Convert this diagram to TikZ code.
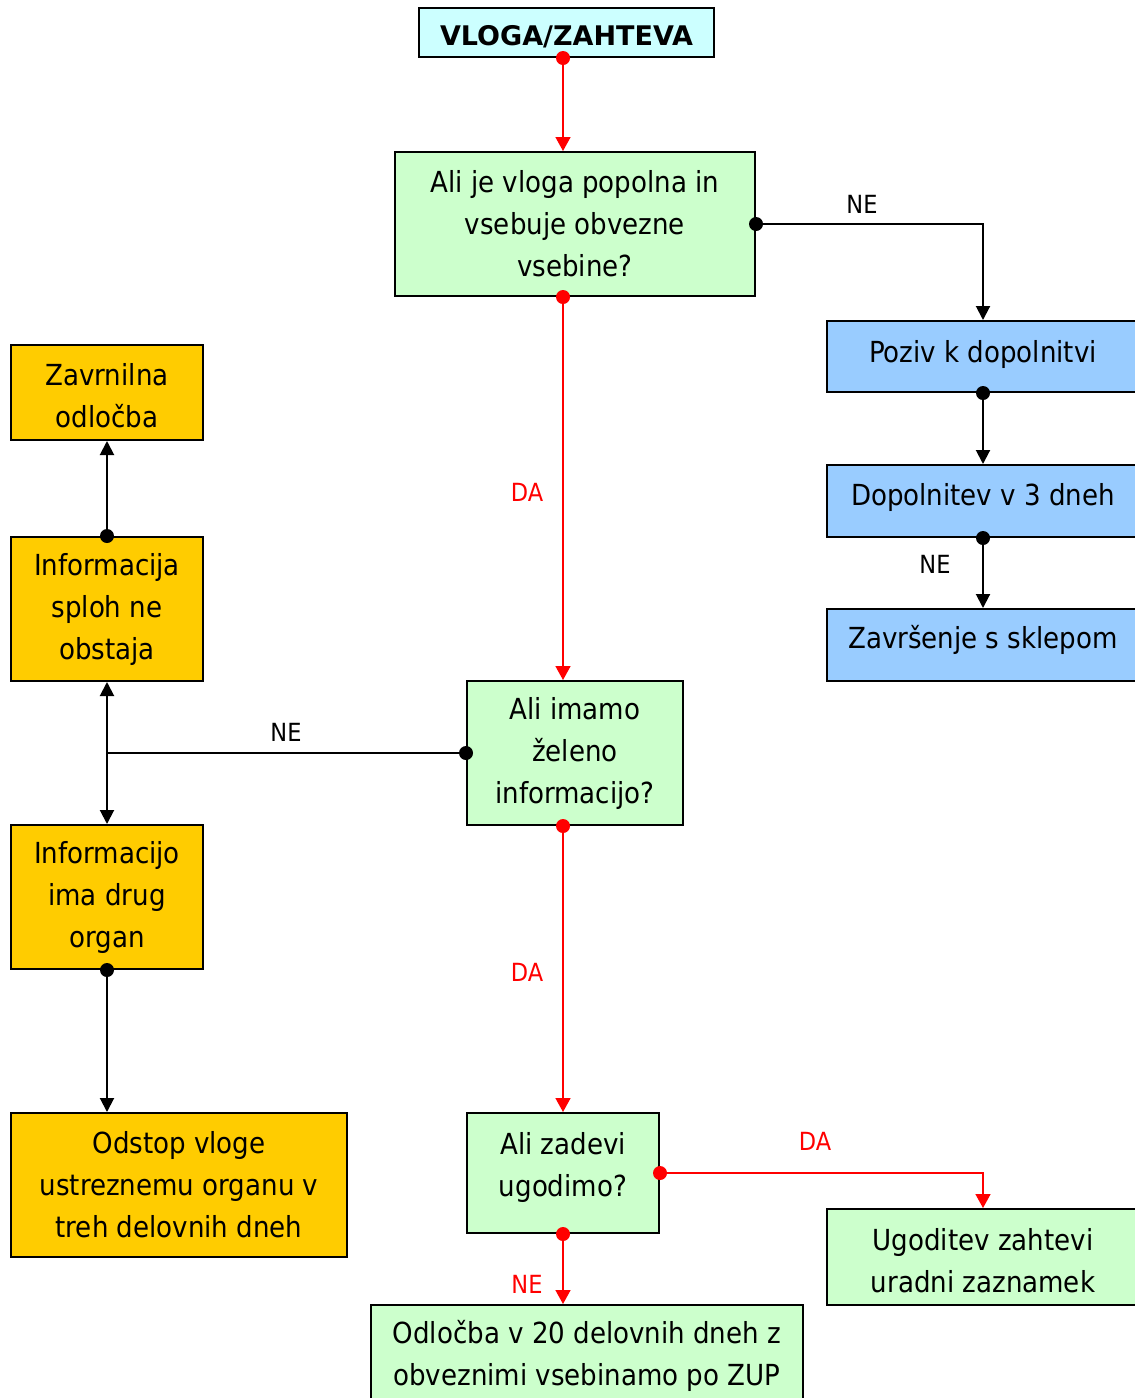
\documentclass[tikz,border=0pt]{standalone}
\usepackage{fontspec}
\setmainfont{DejaVu Sans Condensed}
\newfontfamily\titlefont{DejaVu Sans}
\usetikzlibrary{arrows.meta}
\definecolor{cyanbox}{HTML}{CCFFFF}
\definecolor{greenbox}{HTML}{CCFFCC}
\definecolor{bluebox}{HTML}{99CCFF}
\definecolor{orangebox}{HTML}{FFCC00}
\definecolor{redline}{HTML}{FF0000}
\begin{document}
\begin{tikzpicture}[x=1pt,y=-1pt,
  box/.style={draw=black, line width=2pt, inner sep=0pt, align=center,
    font=\fontsize{29}{42}\selectfont},
  gbox/.style={box, fill=greenbox},
  bbox/.style={box, fill=bluebox},
  obox/.style={box, fill=orangebox},
  blk/.style={draw=black, line width=2pt, -{Triangle[width=14pt,length=14pt]}},
  blkplain/.style={draw=black, line width=2pt},
  red/.style={draw=redline, line width=1.6pt, -{Triangle[width=15pt,length=14pt]}},
  lbl/.style={font=\fontsize{25}{28}\selectfont, inner sep=0pt},
  rlbl/.style={lbl, text=redline},
  bdot/.style={fill=black},
  rdot/.style={fill=redline}
]
\clip (0,0) rectangle (1135,1398);
\fill[white] (0,0) rectangle (1135,1398);

% nodes
\node[box, fill=cyanbox, minimum width=295pt, minimum height=49pt,
  font=\titlefont\bfseries\fontsize{27}{30}\selectfont] (vloga) at (566.5,32.5)
  {\raisebox{-13pt}[0pt][0pt]{VLOGA/ZAHTEVA}};
\node[gbox, minimum width=360pt, minimum height=144pt] (q1) at (575,224)
  {Ali je vloga popolna in\\vsebuje obvezne\\vsebine?};
\node[bbox, minimum width=312pt, minimum height=71pt] (poziv) at (983,356.5)
  {\raisebox{-5.5pt}[0pt][0pt]{Poziv k dopolnitvi}};
\node[bbox, minimum width=312pt, minimum height=72pt] (dopol) at (983,501)
  {\raisebox{-4pt}[0pt][0pt]{Dopolnitev v 3 dneh}};
\node[bbox, minimum width=312pt, minimum height=72pt] (zavr) at (983,645)
  {\raisebox{-3pt}[0pt][0pt]{Završenje s sklepom}};
\node[obox, minimum width=192pt, minimum height=95pt] (zavrn) at (107,392.5)
  {\raisebox{-12pt}[0pt][0pt]{\begin{tabular}{@{}c@{}}Zavrnilna\\odločba\end{tabular}}};
\node[obox, minimum width=192pt, minimum height=144pt] (sploh) at (107,609)
  {Informacija\\sploh ne\\obstaja};
\node[gbox, minimum width=216pt, minimum height=144pt] (q2) at (575,753)
  {Ali imamo\\želeno\\informacijo?};
\node[obox, minimum width=192pt, minimum height=144pt] (drug) at (107,897)
  {Informacijo\\ima drug\\organ};
\node[obox, minimum width=336pt, minimum height=144pt] (odstop) at (179,1185)
  {Odstop vloge\\ustreznemu organu v\\treh delovnih dneh};
\node[gbox, minimum width=192pt, minimum height=120pt] (q3) at (563,1173)
  {\raisebox{0pt}[0pt][0pt]{\begin{tabular}{@{}c@{}}Ali zadevi\\ugodimo?\end{tabular}}};
\node[gbox, minimum width=312pt, minimum height=96pt] (ugod) at (983,1257)
  {\raisebox{-12pt}[0pt][0pt]{\begin{tabular}{@{}c@{}}Ugoditev zahtevi\\uradni zaznamek\end{tabular}}};
\node[gbox, minimum width=432pt, minimum height=102pt] (odl) at (587,1356)
  {Odločba v 20 delovnih dneh z\\obveznimi vsebinamo po ZUP};

% black connectors
\draw[blk] (q1.east) -| (poziv.north);
\draw[blk] (poziv.south) -- (dopol.north);
\draw[blk] (dopol.south) -- (zavr.north);
\draw[blk] (sploh.north) -- (zavrn.south);
\coordinate (j) at (q2.west -| sploh.south);
\draw[blkplain] (q2.west) -- (j);
\draw[blk] (j) -- (sploh.south);
\draw[blk] (j) -- (drug.north);
\draw[blk] (drug.south) -- (drug.south |- odstop.north);

% red connectors
\draw[red] ([xshift=-3.5pt]vloga.south) -- ([xshift=-12pt]q1.north);
\draw[red] ([xshift=-12pt]q1.south) -- ([xshift=-12pt]q2.north);
\draw[red] ([xshift=-12pt]q2.south) -- (q3.north);
\draw[red] (q3.east) -| (ugod.north);
\draw[red] (q3.south) -- (q3.south |- odl.north);

% dots
\fill[bdot] (q1.east) circle (7pt);
\fill[bdot] (poziv.south) circle (7pt);
\fill[bdot] (dopol.south) circle (7pt);
\fill[bdot] (sploh.north) circle (7pt);
\fill[bdot] (q2.west) circle (7pt);
\fill[bdot] (drug.south) circle (7pt);
\fill[rdot] ([xshift=-3.5pt]vloga.south) circle (7pt);
\fill[rdot] ([xshift=-12pt]q1.south) circle (7pt);
\fill[rdot] ([xshift=-12pt]q2.south) circle (7pt);
\fill[rdot] (q3.east) circle (7pt);
\fill[rdot] (q3.south) circle (7pt);

% labels
\node[lbl] (l1) at (862,204) {NE};
\node[lbl] (l2) at (935,564) {NE};
\node[lbl] (l3) at (286,732) {NE};
\node[rlbl] (l4) at (527,492) {DA};
\node[rlbl] (l5) at (527,972) {DA};
\node[rlbl] (l6) at (815,1141) {DA};
\node[rlbl] (l7) at (527,1284) {NE};
\end{tikzpicture}
\end{document}
